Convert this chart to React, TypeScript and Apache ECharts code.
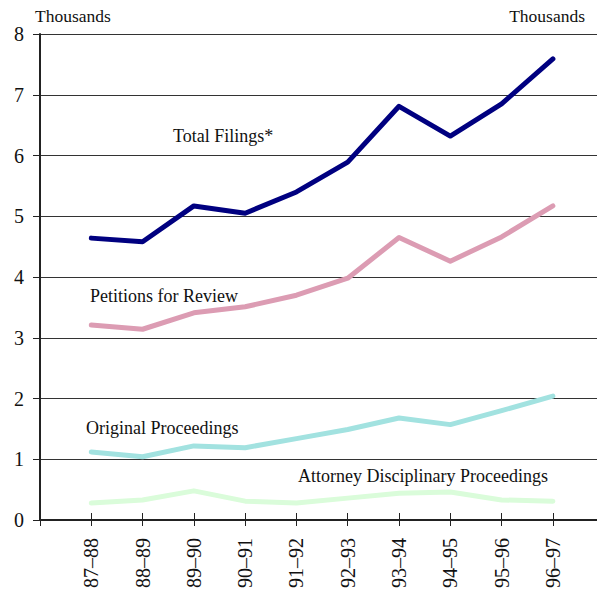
import React, { useEffect, useRef } from "react";
import * as echarts from "echarts";

const categories = ["87–88", "88–89", "89–90", "90–91", "91–92", "92–93", "93–94", "94–95", "95–96", "96–97"];
const totalFilings = [4.64, 4.58, 5.17, 5.05, 5.4, 5.89, 6.81, 6.32, 6.85, 7.59];
const petitions = [3.21, 3.14, 3.41, 3.51, 3.7, 3.98, 4.65, 4.26, 4.66, 5.17];
const original = [1.12, 1.04, 1.22, 1.19, 1.34, 1.49, 1.68, 1.57, 1.8, 2.04];
const attorney = [0.28, 0.33, 0.48, 0.31, 0.28, 0.36, 0.44, 0.46, 0.33, 0.31];
const tickPositions = [0, 1, 2, 3, 4, 5, 6, 7, 8, 9, 10];
const labelPositions = [1, 2, 3, 4, 5, 6, 7, 8, 9, 10];

const FONT = "Liberation Serif";

export default function App() {
  const ref = useRef<HTMLDivElement>(null);
  useEffect(() => {
    if (!ref.current) return;
    const chart = echarts.init(ref.current, null, { renderer: "svg" });
    const toPts = (arr: number[]) => arr.map((v, i) => [i + 1, v]);
    const mk = (name: string, data: number[], color: string) => ({
      name,
      type: "line",
      data: toPts(data),
      showSymbol: false,
      symbol: "none",
      lineStyle: { color, width: 5, cap: "round", join: "round" },
      z: 5,
    });
    const txt = (text: string, size: number) => ({
      text,
      fontSize: size,
      fontFamily: FONT,
      fill: "#111",
    });
    chart.setOption({
      animation: false,
      backgroundColor: "#ffffff",
      textStyle: { fontFamily: FONT },
      grid: { left: 40, right: 0, top: 34, bottom: 78, containLabel: false },
      xAxis: [
        {
          type: "value",
          min: 0,
          max: 10.86,
          interval: 1,
          axisLine: { show: true, onZero: false, lineStyle: { color: "#222", width: 2 } },
          axisTick: { show: true, length: 6, lineStyle: { color: "#222", width: 1 }, customValues: tickPositions },
          axisLabel: {
            customValues: labelPositions,
            formatter: (v: number) => categories[Math.round(v) - 1] ?? "",
            rotate: 90,
            fontSize: 20,
            fontFamily: FONT,
            color: "#111",
            margin: 18,
          },
          splitLine: { show: false },
        },
        {
          type: "value",
          min: 0,
          max: 10.86,
          interval: 1,
          position: "bottom",
          axisLine: { show: false, onZero: false },
          axisTick: { show: true, inside: true, length: 7, lineStyle: { color: "#222", width: 1 }, customValues: tickPositions },
          axisLabel: { show: false },
          splitLine: { show: false },
        },
      ],
      yAxis: {
        type: "value",
        min: 0,
        max: 8,
        interval: 1,
        axisLine: { show: true, lineStyle: { color: "#222", width: 2 } },
        axisTick: { show: true, length: 7, lineStyle: { color: "#222", width: 1 } },
        axisLabel: { fontSize: 20, fontFamily: FONT, color: "#111", margin: 16 },
        splitLine: { show: true, lineStyle: { color: "#333", width: 1 } },
      },
      series: [
        mk("Total Filings*", totalFilings, "#000080"),
        mk("Petitions for Review", petitions, "#dc9cb3"),
        mk("Original Proceedings", original, "#a2e2e0"),
        mk("Attorney Disciplinary Proceedings", attorney, "#dafcda"),
      ],
      graphic: [
        { type: "text", left: 35, top: 7, style: txt("Thousands", 17.5) },
        { type: "text", right: 12, top: 7, style: txt("Thousands", 17.5) },
        { type: "text", left: 173, top: 127, style: txt("Total Filings*", 18) },
        { type: "text", left: 90, top: 287, style: txt("Petitions for Review", 18) },
        { type: "text", left: 86, top: 419, style: txt("Original Proceedings", 18) },
        { type: "text", left: 298, top: 467, style: txt("Attorney Disciplinary Proceedings", 18) },
      ],
    });
    return () => chart.dispose();
  }, []);
  return <div ref={ref} style={{ position: "fixed", left: 0, top: 0, width: 597, height: 598 }} />;
}
